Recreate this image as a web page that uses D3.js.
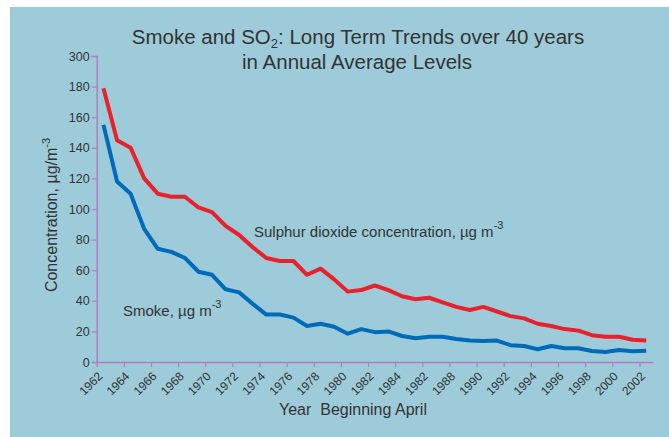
<!DOCTYPE html>
<html><head><meta charset="utf-8">
<script src="https://cdn.jsdelivr.net/npm/d3@7"></script>
<style>
body{margin:0;background:#fff;}
text{font-family:"Liberation Sans",Arial,Helvetica,sans-serif;fill:#333;}
</style></head>
<body><svg id="c" width="669" height="437"></svg>
<script>
const years = d3.range(1962, 2003);
const so2 = [179,145,140,120,110,108,108,101,98,89,83,75,68,66,66,57,61,54,46,47,50,47,43,41,42,39,36,34,36,33,30,28.5,25,23.5,21.5,20.5,17.5,16.5,16.5,14.5,14];
const smoke = [155,118,110,87,74,72,68,59,57,47.5,45.5,38,31,31,29,23.5,25,23,18.5,21.5,19.5,20,17,15.5,16.5,16.5,15,14,13.7,14,11,10.5,8.3,10.5,9,9,7.2,6.5,7.8,7,7.4];
const xTickValues = d3.range(1962, 2003, 2);
const xTickLabels = ["1962","1964","1966","1968","1970","1972","1974","1976","1978","1980","1982","1984","1982","1988","1990","1992","1994","1996","1998","2000","2002"];
const yTickValues = [0,20,40,60,80,100,120,140,160,180,200];
const yTickLabels = ["0","20","40","60","80","100","120","140","160","180","300"];

const svg = d3.select("#c");
svg.append("rect").attr("x",10).attr("y",7).attr("width",669).attr("height",437).attr("fill","#9dcbd9");

const x = d3.scaleLinear().domain([1962, 2003]).range([96.7, 653]);
const y = d3.scaleLinear().domain([0, 200]).range([362, 56]);
const axisCol = "#b57cc0";

// Y axis
const ya = svg.append("g").attr("transform","translate(96.7,0)")
  .call(d3.axisLeft(y).tickValues(yTickValues).tickSize(5).tickFormat((d,i)=>yTickLabels[i]));
ya.select(".domain").attr("stroke",axisCol).attr("stroke-width",1.5);
ya.selectAll(".tick line").attr("stroke",axisCol).attr("stroke-width",1.2);
ya.selectAll(".tick text").attr("font-size",12.5).attr("fill","#333").attr("x",-7)
  .style("font-family","'Liberation Sans',Arial,sans-serif");

// X axis
const xa = svg.append("g").attr("transform","translate(0,362)")
  .call(d3.axisBottom(x).tickValues(xTickValues).tickSize(5).tickSizeOuter(0).tickFormat((d,i)=>xTickLabels[i]));
xa.select(".domain").attr("stroke",axisCol).attr("stroke-width",1.5);
xa.selectAll(".tick line").attr("stroke",axisCol).attr("stroke-width",1.2);
xa.selectAll(".tick text").attr("font-size",12).attr("fill","#333")
  .style("font-family","'Liberation Sans',Arial,sans-serif")
  .attr("text-anchor","end").attr("y",0).attr("dy",0)
  .attr("transform","translate(6,15) rotate(-45)");

// lines
const line = d3.line().x((d,i)=>x(years[i]+0.5)).y(d=>y(d));
svg.append("path").datum(so2).attr("d",line).attr("fill","none").attr("stroke","#e8212b").attr("stroke-width",4).attr("stroke-linejoin","round");
svg.append("path").datum(smoke).attr("d",line).attr("fill","none").attr("stroke","#006bb8").attr("stroke-width",4).attr("stroke-linejoin","round");

// Title
const t = svg.append("text").attr("x",358).attr("y",44).attr("text-anchor","middle").attr("font-size",20.5);
t.append("tspan").text("Smoke and SO");
t.append("tspan").attr("font-size",13).attr("dy",4).text("2");
t.append("tspan").attr("dy",-4).text(": Long Term Trends over 40 years");
svg.append("text").attr("x",357).attr("y",69).attr("text-anchor","middle").attr("font-size",20.5).text("in Annual Average Levels");

// Axis titles
const yl = svg.append("text").attr("transform","translate(57,215) rotate(-90)").attr("text-anchor","middle").attr("font-size",16);
yl.append("tspan").text("Concentration, µg/m");
yl.append("tspan").attr("font-size",11).attr("dy",-7).text("-3");
svg.append("text").attr("x",353).attr("y",415).attr("text-anchor","middle").attr("font-size",16).attr("xml:space","preserve").text("Year  Beginning April");

// annotations
const a1 = svg.append("text").attr("x",254).attr("y",237).attr("font-size",15);
a1.append("tspan").text("Sulphur dioxide concentration, µg m");
a1.append("tspan").attr("font-size",11).attr("dy",-8).text("-3");
const a2 = svg.append("text").attr("x",123).attr("y",316).attr("font-size",15);
a2.append("tspan").text("Smoke, µg m");
a2.append("tspan").attr("font-size",11).attr("dy",-8).text("-3");
</script></body></html>
